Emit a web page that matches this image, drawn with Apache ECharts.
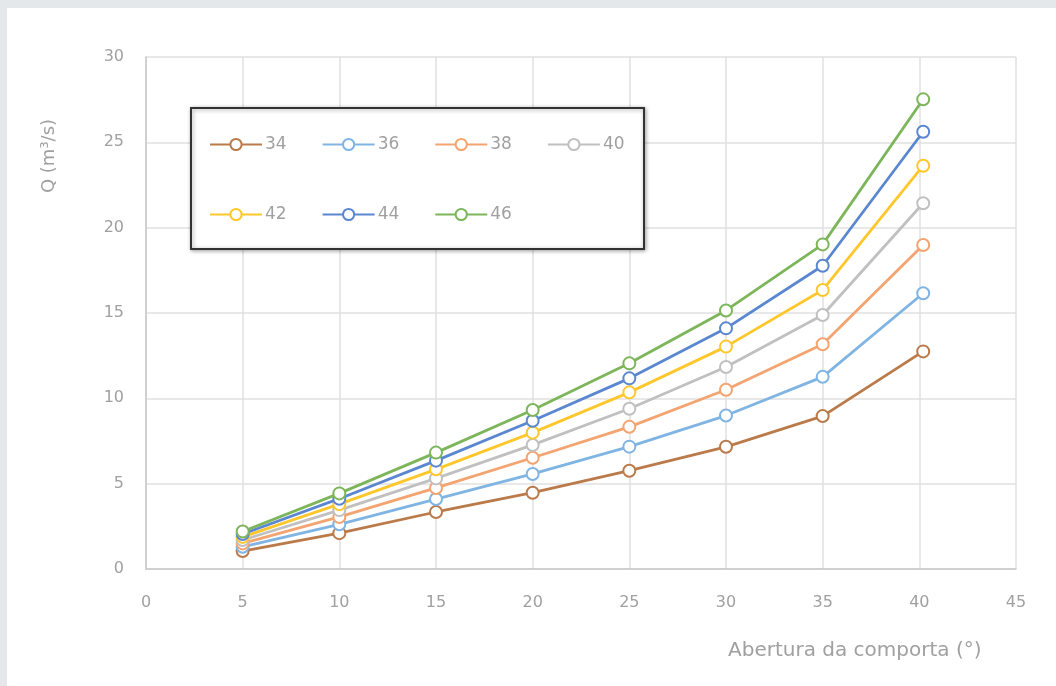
<!DOCTYPE html>
<html><head><meta charset="utf-8">
<script src="https://cdn.jsdelivr.net/npm/echarts@6/dist/echarts.min.js"></script>
<style>
html,body{margin:0;padding:0;background:#e4e8eb;width:1056px;height:686px;overflow:hidden;}
#c{position:absolute;left:7px;top:8px;width:1049px;height:678px;background:#fff;}
</style></head>
<body><div id="c"></div>
<script>
const xValues = [5, 10, 15, 20, 25, 30, 35, 40.2];
const seriesNames = ['34', '36', '38', '40', '42', '44', '46'];
const s34 = [1.05, 2.1, 3.34, 4.47, 5.76, 7.16, 8.96, 12.75];
const s36 = [1.3, 2.62, 4.1, 5.57, 7.17, 8.99, 11.26, 16.16];
const s38 = [1.5, 3.05, 4.75, 6.52, 8.33, 10.5, 13.17, 18.98];
const s40 = [1.7, 3.45, 5.31, 7.27, 9.39, 11.84, 14.88, 21.43];
const s42 = [1.88, 3.8, 5.84, 7.99, 10.35, 13.03, 16.35, 23.63];
const s44 = [2.05, 4.12, 6.35, 8.69, 11.17, 14.1, 17.77, 25.62];
const s46 = [2.2, 4.43, 6.82, 9.32, 12.05, 15.15, 19.02, 27.52];
const allValues = [s34, s36, s38, s40, s42, s44, s46];
const colors = ['#bb7a4a', '#80b4e2', '#f3a470', '#c0c0c0', '#ffc72c', '#5a87d0', '#7db65a'];
const yTitle = 'Q (m³/s)';
const xTitle = 'Abertura da comporta (°)';

const txt = '#a0a0a0';
const fontFam = '"DejaVu Sans", sans-serif';
const chart = echarts.init(document.getElementById('c'));
const series = seriesNames.map((n, i) => ({
  name: n, type: 'line',
  data: xValues.map((x, j) => [x, allValues[i][j]]),
  symbol: 'circle', symbolSize: 12,
  itemStyle: {color: '#fff', borderColor: colors[i], borderWidth: 2},
  lineStyle: {color: colors[i], width: 2.8},
  emphasis: {disabled: true},
  z: 2 + i
}));
const legendCommon = {
  orient: 'horizontal', itemWidth: 52, itemHeight: 14, itemGap: 35, padding: 0,
  textStyle: {color: txt, fontSize: 17, fontFamily: fontFam, padding: [0, 0, 0, -2]},
  z: 5
};
chart.setOption({
  animation: false,
  color: colors,
  grid: {left: 139, right: 40, top: 49, bottom: 117, containLabel: false},
  xAxis: {
    type: 'value', min: 0, max: 45, interval: 5,
    axisLine: {show: true, lineStyle: {color: '#c8c8c8', width: 1.5}},
    axisTick: {show: false},
    splitLine: {show: true, lineStyle: {color: '#e0e0e0', width: 1.5}},
    axisLabel: {color: txt, fontSize: 16, fontFamily: fontFam, margin: 26}
  },
  yAxis: {
    type: 'value', min: 0, max: 30, interval: 5,
    axisLine: {show: true, lineStyle: {color: '#c8c8c8', width: 1.5}},
    axisTick: {show: false},
    splitLine: {show: true, lineStyle: {color: '#e0e0e0', width: 1.5}},
    axisLabel: {color: txt, fontSize: 16, fontFamily: fontFam, margin: 22}
  },
  legend: [
    Object.assign({}, legendCommon, {left: 202, top: 128, data: seriesNames.slice(0, 4)}),
    Object.assign({}, legendCommon, {left: 202, top: 198, data: seriesNames.slice(4)})
  ],
  graphic: [
    {type: 'rect', z: 1, shape: {x: 184, y: 100, width: 453, height: 141},
     style: {fill: '#fff', stroke: '#333', lineWidth: 2, shadowBlur: 4, shadowColor: 'rgba(0,0,0,0.35)', shadowOffsetX: 1, shadowOffsetY: 1}},
    {type: 'text', x: 42, y: 148, rotation: Math.PI / 2, z: 5,
     style: {text: yTitle, fill: txt, font: '18px ' + fontFam, textAlign: 'center', textVerticalAlign: 'middle'}},
    {type: 'text', x: 721, y: 643, z: 5,
     style: {text: xTitle, fill: txt, font: '20px ' + fontFam, textAlign: 'left', textVerticalAlign: 'middle'}}
  ],
  series: series
});
</script></body></html>
